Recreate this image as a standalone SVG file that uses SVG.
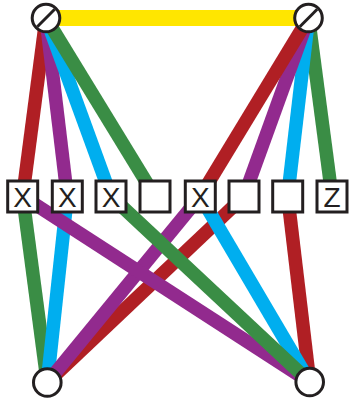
<svg xmlns="http://www.w3.org/2000/svg" width="349" height="405" viewBox="0 0 349 405">
  <style>
    .edge { fill: none; stroke-width: 13.5; stroke-linecap: butt; }
    .red { stroke: #b01f24; }
    .purple { stroke: #922a8e; }
    .blue { stroke: #00aeef; }
    .green { stroke: #3a8d45; }
    .yellow { stroke: #ffe600; stroke-width: 16; }
    .node circle { fill: #ffffff; stroke: #231f20; stroke-width: 3; }
    .node line { stroke: #231f20; stroke-width: 3; }
    .box rect { fill: #ffffff; stroke: #231f20; stroke-width: 3; }
    .box text { font-family: "Liberation Sans", Arial, sans-serif; font-size: 28px; fill: #231f20; text-anchor: middle; }
  </style>

  <!-- connectors -->
  <g id="connectors">
    <line class="edge yellow" x1="46" y1="18" x2="308.5" y2="18"/>
    <!-- from top-left hub down to the row -->
    <line class="edge red" x1="46" y1="18" x2="22.7" y2="196.3"/>
    <line class="edge purple" x1="46" y1="18" x2="67.3" y2="196.3"/>
    <line class="edge blue" x1="46" y1="18" x2="111" y2="196.3"/>
    <line class="edge green" x1="46" y1="18" x2="155" y2="196.3"/>
    <!-- from top-right hub down to the row -->
    <line class="edge green" x1="308.5" y1="18" x2="332" y2="196.3"/>
    <line class="edge blue" x1="308.5" y1="18" x2="287.7" y2="196.3"/>
    <line class="edge purple" x1="308.5" y1="18" x2="244" y2="196.3"/>
    <line class="edge red" x1="308.5" y1="18" x2="200.3" y2="196.3"/>
    <!-- from the row down to the bottom hubs -->
    <line class="edge red" x1="244" y1="196.3" x2="47.3" y2="382.5"/>
    <line class="edge red" x1="287.7" y1="196.3" x2="309.7" y2="382"/>
    <line class="edge green" x1="22.7" y1="196.3" x2="47.3" y2="382.5"/>
    <line class="edge blue" x1="67.3" y1="196.3" x2="47.3" y2="382.5"/>
    <line class="edge purple" x1="200.3" y1="196.3" x2="47.3" y2="382.5"/>
    <line class="edge blue" x1="200.3" y1="196.3" x2="309.7" y2="382"/>
    <line class="edge purple" x1="22.7" y1="196.3" x2="309.7" y2="382"/>
    <line class="edge green" x1="111" y1="196.3" x2="309.7" y2="382"/>
  </g>

  <!-- hubs -->
  <g id="hub-top-left" class="node">
    <circle cx="46" cy="18" r="13.8"/>
    <line x1="37.3" y1="26.7" x2="54.7" y2="9.3"/>
  </g>
  <g id="hub-top-right" class="node">
    <circle cx="308.5" cy="18" r="13.8"/>
    <line x1="299.8" y1="26.7" x2="317.2" y2="9.3"/>
  </g>
  <g id="hub-bottom-left" class="node">
    <circle cx="47.3" cy="382.5" r="13.8"/>
  </g>
  <g id="hub-bottom-right" class="node">
    <circle cx="309.7" cy="382" r="13.8"/>
  </g>

  <!-- row of boxes -->
  <g id="box-1" class="box"><rect x="7.7" y="181" width="30" height="31"/><text x="22.7" y="206.5">X</text></g>
  <g id="box-2" class="box"><rect x="52.3" y="181" width="30" height="31"/><text x="67.3" y="206.5">X</text></g>
  <g id="box-3" class="box"><rect x="96" y="181" width="30" height="31"/><text x="111" y="206.5">X</text></g>
  <g id="box-4" class="box"><rect x="140" y="181" width="30" height="31"/></g>
  <g id="box-5" class="box"><rect x="185.3" y="181" width="30" height="31"/><text x="200.3" y="206.5">X</text></g>
  <g id="box-6" class="box"><rect x="229" y="181" width="30" height="31"/></g>
  <g id="box-7" class="box"><rect x="272.7" y="181" width="30" height="31"/></g>
  <g id="box-8" class="box"><rect x="317" y="181" width="30" height="31"/><text x="332" y="206.5">Z</text></g>
</svg>
